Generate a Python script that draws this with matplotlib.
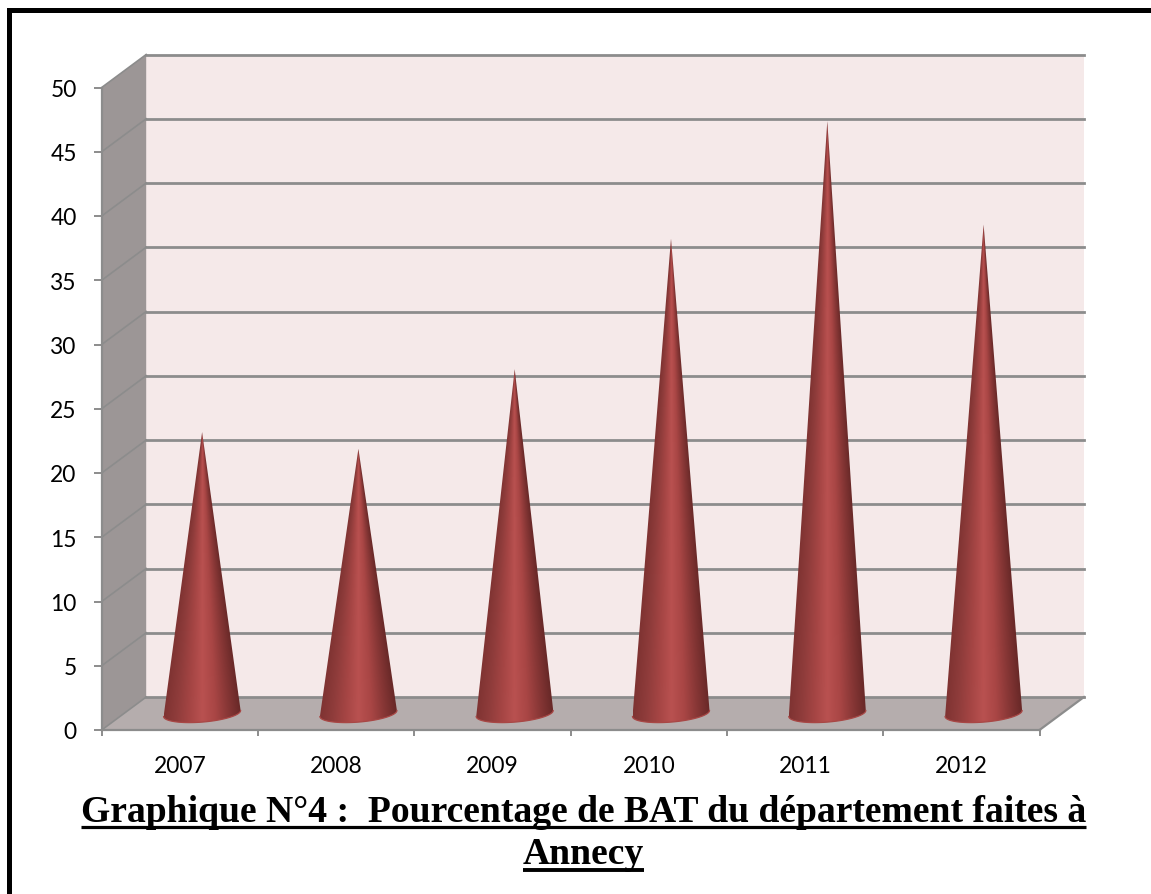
import numpy as np
import matplotlib
matplotlib.use("Agg")
import matplotlib.pyplot as plt
from matplotlib.colors import LinearSegmentedColormap
from matplotlib.lines import Line2D
from matplotlib.patches import Polygon

years = ["2007", "2008", "2009", "2010", "2011", "2012"]
values = [21.9, 20.6, 26.8, 36.95, 46.1, 38.05]
y_ticks = [0, 5, 10, 15, 20, 25, 30, 35, 40, 45, 50]
title_lines = ["Graphique N°4 :  Pourcentage de BAT du département faites à", "Annecy"]

W, H = 1151, 895
GRID = "#8c8c8c"

# depth of the fake 3d box, in data units
depth_x = 44.5 / 156.3
depth_y = 33.0 / 12.85

cone_cmap = LinearSegmentedColormap.from_list(
    "cone", ["#7f3332", "#8f3c3b", "#a54544", "#b95150", "#a94645", "#883736", "#692928"])


def draw_box(ax):
    n = len(years)
    top = y_ticks[-1]
    ax.add_patch(Polygon([(depth_x, depth_y), (n + depth_x, depth_y), (n + depth_x, top + depth_y), (depth_x, top + depth_y)],
                         fc="#f5e9e9", ec="none", clip_on=False, zorder=1))
    ax.add_patch(Polygon([(0, 0), (depth_x, depth_y), (depth_x, top + depth_y), (0, top)],
                         fc="#9c9696", ec="none", clip_on=False, zorder=1))
    ax.add_patch(Polygon([(0, 0), (n, 0), (n + depth_x, depth_y), (depth_x, depth_y)],
                         fc="#b5adad", ec="none", clip_on=False, zorder=1))
    for v in y_ticks:
        ax.plot([0, depth_x], [v, v + depth_y], color=GRID, lw=1.2, clip_on=False, zorder=2)
        ax.plot([depth_x, n + depth_x], [v + depth_y, v + depth_y], color=GRID, lw=2.0, clip_on=False, zorder=2)
    ax.plot([n, n + depth_x], [0, depth_y], color=GRID, lw=1.6, clip_on=False, zorder=2)


def draw_cone(ax, i, value):
    # shaded image clipped to the outline of the cone with its tilted base
    cx = i + 0.5 + depth_x / 2
    cy = depth_y / 2
    a = 38.5 / 156.3
    tilt = 3.0 / 12.85
    b = 8.6 / 12.85
    tip_y = cy + value

    t = np.linspace(0, np.pi, 81)
    bx = cx + a * np.cos(t)
    by = cy + tilt * np.cos(t) - b * np.sin(t)
    outline = [(cx, tip_y)] + list(zip(bx, by))

    low = by.min()
    xs = np.linspace(cx - a, cx + a, 300)
    ys = np.linspace(tip_y, low, 500)
    gx, gy = np.meshgrid(xs, ys)
    half = a * np.clip((tip_y - gy) / value, 0.004, None)
    u = np.clip((gx - cx) / half, -1, 1)
    rgb = cone_cmap((u + 1) / 2)[:, :, :3]

    im = ax.imshow(rgb, extent=(cx - a, cx + a, low, tip_y), aspect="auto", origin="upper",
                   interpolation="bilinear", zorder=3)
    clip = Polygon(outline, transform=ax.transData)
    im.set_clip_path(clip)
    # slightly lighter rim along the front of the base
    ax.plot(bx, by, color="#a84745", lw=0.9, clip_on=False, zorder=4)


def main():
    fig = plt.figure(figsize=(W / 100, H / 100), dpi=100, facecolor="white")
    ax = fig.add_axes([101.7 / W, (H - 731.0) / H, 937.8 / W, 642.5 / H])
    ax.patch.set_visible(False)

    draw_box(ax)
    for i, v in enumerate(values):
        draw_cone(ax, i, v)
    ax.set_xlim(0, len(years))
    ax.set_ylim(y_ticks[0], y_ticks[-1])

    for side in ["top", "right"]:
        ax.spines[side].set_visible(False)
    for side in ["left", "bottom"]:
        ax.spines[side].set_color(GRID)
        ax.spines[side].set_linewidth(1.6)
        ax.spines[side].set_zorder(2)

    ax.set_yticks(y_ticks)
    ax.set_xticks(range(len(years) + 1))
    ax.set_xticklabels([])
    ax.set_xticks(np.arange(len(years)) + 0.5, labels=years, minor=True)
    ax.tick_params(axis="y", length=6, width=1.4, color=GRID, pad=12, labelsize=16.4, labelfontfamily="Lato")
    ax.tick_params(axis="x", which="major", length=4, width=1.4, color=GRID)
    ax.tick_params(axis="x", which="minor", length=0, pad=18, labelsize=16.4, labelfontfamily="Lato")

    # black frame, only top and left are inside the picture
    fig.add_artist(Line2D([8.5 / W, 8.5 / W], [0, (H - 10.5) / H], color="black", lw=3.6, solid_capstyle="projecting"))
    fig.add_artist(Line2D([8.5 / W, 1], [(H - 10.5) / H, (H - 10.5) / H], color="black", lw=3.6, solid_capstyle="projecting"))

    # title, with the underline drawn from the measured text
    renderer = fig.canvas.get_renderer()
    baselines = [H - 822, H - 864.5]
    rules = [H - 827.7, H - 870.7]
    widths = [2.3, 2.8]
    for line, base, rule, lw in zip(title_lines, baselines, rules, widths):
        txt = fig.text(583.5 / W, base / H, line, family="Liberation Serif", weight="bold", fontsize=27.05,
                       ha="center", va="baseline", color="black")
        box = txt.get_window_extent(renderer)
        fig.add_artist(Line2D([box.x0 / W, box.x1 / W], [rule / H, rule / H], color="black", lw=lw,
                              solid_capstyle="butt"))

    fig.savefig("out.png", dpi=100)


if __name__ == "__main__":
    main()
